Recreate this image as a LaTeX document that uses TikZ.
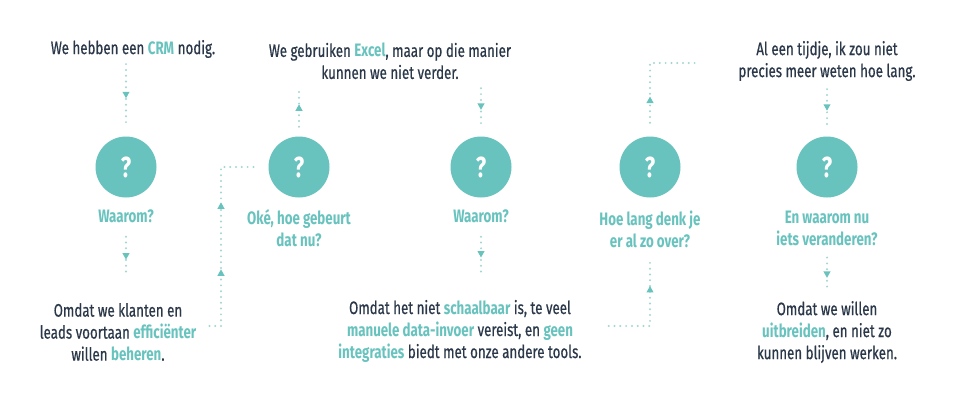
\documentclass[tikz,border=0pt]{standalone}
\usepackage{fontspec}
\setmainfont[FakeStretch=0.74, UprightFeatures={FakeBold=0.6}]{Fira Sans}
\usetikzlibrary{decorations.markings,calc}
\definecolor{teal1}{HTML}{68C3BE}
\definecolor{dark1}{HTML}{2A3849}
\definecolor{dotc}{HTML}{A3D6D2}
\newcommand{\tq}[1]{\textcolor{teal1}{\bfseries #1}}
\newcommand{\arrowtri}{\fill[teal1] (3.2,0) -- (-3.2,3.6) -- (-3.2,-3.6) -- cycle;}
\tikzset{
  txt/.style={text=dark1, font=\fontsize{18}{22}\selectfont, align=center, inner sep=0pt},
  lbl/.style={text=teal1, font=\fontsize{18}{22}\selectfont\bfseries, align=center, inner sep=0pt},
  qc/.style={circle, fill=teal1, minimum size=61pt, inner sep=0pt, text=white, font=\fontsize{29}{29}\selectfont\bfseries},
  dl/.style={draw=dotc, line width=2.2pt, line cap=round, dash pattern=on 0pt off 5.8pt},
  arrowat/.style={postaction={decorate, decoration={markings, mark=at position #1 with {\arrowtri}}}}
}
\begin{document}
\begin{tikzpicture}[x=1pt,y=1pt]
\fill[white] (0,0) rectangle (960,400);
\useasboundingbox (0,0) rectangle (960,400);

% column 1
\node[txt] (t1) at (133,351) {We hebben een \tq{CRM} nodig.};
\node[qc] (c1) at (126,233) {?};
\node[lbl] (l1) at (126,184) {Waarom?};
\node[txt] (b1) at (118,68) {Omdat we klanten en\\leads voortaan \tq{efficiënter}\\willen \tq{beheren}.};

% column 2
\node[txt] (t2) at (390,339) {We gebruiken \tq{Excel}, maar op die manier\\kunnen we niet verder.};
\node[qc] (c2) at (299,233) {?};
\node[lbl] (l2) at (299,172) {Oké, hoe gebeurt\\dat nu?};

% column 3
\node[qc] (c3) at (481,233) {?};
\node[lbl] (l3) at (481,184) {Waarom?};
\node[txt] (b3) at (460,69) {Omdat het niet \tq{schaalbaar} is, te veel\\\tq{manuele data-invoer} vereist, en \tq{geen}\\\tq{integraties} biedt met onze andere tools.};

% column 4
\node[qc] (c4) at (650,233) {?};
\node[lbl] (l4) at (650,171) {Hoe lang denk je\\er al zo over?};

% column 5
\node[txt] (t5) at (827,339) {Al een tijdje, ik zou niet\\precies meer weten hoe lang.};
\node[qc] (c5) at (827,233) {?};
\node[lbl] (l5) at (827,172) {En waarom nu\\iets veranderen?};
\node[txt] (b5) at (827,68) {Omdat we willen\\\tq{uitbreiden}, en niet zo\\kunnen blijven werken.};

% corner coordinates
\coordinate (k1) at (221,74);
\coordinate (k3) at (650,74);
\coordinate (k4) at (650,337);

% connectors
\draw[dl, arrowat=0.5] ($(t1.south -| c1.north)+(0,-6)$) -- ($(c1.north)+(0,10.5)$);
\draw[dl, arrowat=0.5] ($(l1.south)+(0,-14)$) -- ($(b1.north -| l1.south)+(0,27)$);
\draw[dl, arrowat=65pt, arrowat=132pt] ($(b1.east |- k1)+(13,0)$) -- (k1) -- (k1 |- c2) -- ($(c2.west)+(-12,0)$);
\draw[dl, arrowat=0.5] ($(c2.north)+(0,9.5)$) -- ($(t2.south -| c2.north)+(0,-9)$);
\draw[dl, arrowat=0.5] ($(t2.south -| c3.north)+(0,-9)$) -- ($(c3.north)+(0,11.5)$);
\draw[dl, arrowat=0.5] ($(l3.south)+(0,-14)$) -- ($(b3.north -| l3.south)+(0,28)$);
\draw[dl, arrowat=78pt] ($(b3.east |- k3)+(27,0)$) -- (k3) -- ($(l4.south)+(0,-11)$);
\draw[dl, arrowat=23pt] ($(c4.north)+(0,13.5)$) -- (k4) -- ($(t5.west |- k4)+(-39.5,0)$);
\draw[dl, arrowat=0.5] ($(t5.south)+(0,-8)$) -- ($(c5.north)+(0,10.5)$);
\draw[dl, arrowat=0.58] ($(l5.south)+(0,-12)$) -- ($(b5.north)+(0,14)$);
\end{tikzpicture}
\end{document}
